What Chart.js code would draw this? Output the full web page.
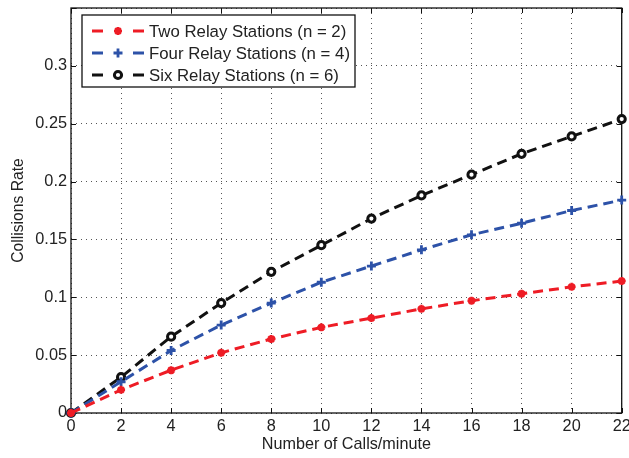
<!DOCTYPE html>
<html><head><meta charset="utf-8">
<script src="https://cdn.jsdelivr.net/npm/chart.js@4/dist/chart.umd.min.js"></script>
<style>html,body{margin:0;padding:0;background:#fff}#wrap{width:629px;height:458px;position:relative}</style>
</head><body><div id="wrap"><canvas id="c" width="629" height="458"></canvas></div>
<script>
const callsPerMinute = [0, 2, 4, 6, 8, 10, 12, 14, 16, 18, 20, 22];
const twoRelay  = [0, 0.020, 0.037, 0.052, 0.064, 0.074, 0.082, 0.090, 0.097, 0.103, 0.109, 0.114];
const fourRelay = [0, 0.027, 0.054, 0.076, 0.095, 0.113, 0.127, 0.141, 0.154, 0.164, 0.175, 0.184];
const sixRelay  = [0, 0.031, 0.066, 0.095, 0.122, 0.145, 0.168, 0.188, 0.206, 0.224, 0.239, 0.254];
const seriesLabels = ['Two Relay Stations (n = 2)', 'Four Relay Stations (n = 4)', 'Six Relay Stations (n = 6)'];
const xTitle = 'Number of Calls/minute';
const yTitle = 'Collisions Rate';

const FONT = "'Liberation Sans', Arial, sans-serif";
const toXY = arr => arr.map((v, i) => ({x: callsPerMinute[i], y: v}));

function drawMarker(ctx, style, x, y, r, color, bw) {
  ctx.save();
  ctx.strokeStyle = color; ctx.fillStyle = color; ctx.lineWidth = bw; ctx.setLineDash([]);
  ctx.beginPath();
  if (style === 'circle') {
    ctx.fillStyle = '#fff';
    ctx.arc(x, y, r, 0, Math.PI * 2); ctx.fill(); ctx.stroke();
  } else if (style === 'cross') {
    ctx.moveTo(x - r, y); ctx.lineTo(x + r, y); ctx.moveTo(x, y - r); ctx.lineTo(x, y + r); ctx.stroke();
  } else {
    ctx.moveTo(x - r, y); ctx.lineTo(x + r, y); ctx.moveTo(x, y - r); ctx.lineTo(x, y + r);
    const d = r * 0.707;
    ctx.moveTo(x - d, y - d); ctx.lineTo(x + d, y + d); ctx.moveTo(x - d, y + d); ctx.lineTo(x + d, y - d); ctx.stroke();
  }
  ctx.restore();
}

const framePlugin = {
  id: 'frame',
  beforeDatasetsDraw(chart) {
    const {ctx, chartArea: a, scales} = chart;
    ctx.save();
    ctx.strokeStyle = '#111'; ctx.lineWidth = 1.3; ctx.setLineDash([]);
    ctx.strokeRect(a.left, a.top, a.right - a.left, a.bottom - a.top);
    ctx.lineWidth = 1;
    ctx.beginPath();
    scales.x.ticks.forEach(t => {
      const px = Math.round(scales.x.getPixelForValue(t.value)) + 0.5;
      ctx.moveTo(px, a.bottom); ctx.lineTo(px, a.bottom - 5);
      ctx.moveTo(px, a.top); ctx.lineTo(px, a.top + 5);
    });
    scales.y.ticks.forEach(t => {
      const py = Math.round(scales.y.getPixelForValue(t.value)) + 0.5;
      ctx.moveTo(a.left, py); ctx.lineTo(a.left + 5, py);
      ctx.moveTo(a.right, py); ctx.lineTo(a.right - 5, py);
    });
    ctx.stroke();
    ctx.restore();
  }
};

const legendPlugin = {
  id: 'boxLegend',
  afterDraw(chart) {
    const {ctx} = chart;
    const x0 = 82, y0 = 15, w = 273, h = 72;
    ctx.save();
    ctx.fillStyle = '#fff'; ctx.fillRect(x0, y0, w, h);
    ctx.strokeStyle = '#111'; ctx.lineWidth = 1.3; ctx.strokeRect(x0, y0, w, h);
    ctx.font = '16.8px ' + FONT; ctx.fillStyle = '#222'; ctx.textBaseline = 'middle';
    chart.data.datasets.forEach((ds, i) => {
      const cy = y0 + 16 + i * 22;
      ctx.strokeStyle = ds.borderColor; ctx.lineWidth = ds.borderWidth; ctx.setLineDash([]);
      ctx.beginPath();
      ctx.moveTo(92, cy); ctx.lineTo(103, cy);
      ctx.moveTo(133, cy); ctx.lineTo(144, cy);
      ctx.stroke();
      drawMarker(ctx, ds.pointStyle, 118, cy, ds.pointRadius, ds.pointBorderColor, ds.pointBorderWidth);
      ctx.fillStyle = '#222';
      ctx.fillText(ds.label, 149, cy + 1);
    });
    ctx.restore();
  }
};

const mkDs = (label, data, color, style, r, bw) => ({
  label, data: toXY(data), borderColor: color, backgroundColor: style === 'circle' ? '#fff' : color,
  borderWidth: 3, borderDash: [10, 6], tension: 0, fill: false, clip: false,
  pointStyle: style, pointRadius: r, pointBorderColor: color, pointBorderWidth: bw,
  pointBackgroundColor: style === 'circle' ? '#fff' : color, pointHoverRadius: r
});

new Chart(document.getElementById('c'), {
  type: 'line',
  data: {
    datasets: [
      mkDs(seriesLabels[0], twoRelay, '#ee1c25', 'star', 4, 2.5),
      mkDs(seriesLabels[1], fourRelay, '#2d52a8', 'cross', 4.5, 2.8),
      mkDs(seriesLabels[2], sixRelay, '#111111', 'circle', 3.6, 3)
    ]
  },
  options: {
    responsive: false, animation: false, devicePixelRatio: 1,
    layout: {padding: {top: 8, right: 6, left: 0, bottom: 0}},
    plugins: {legend: {display: false}, tooltip: {enabled: false}},
    scales: {
      x: {
        type: 'linear', min: 0, max: 22,
        ticks: {stepSize: 2, font: {family: FONT, size: 16.3}, color: '#222', padding: 4, maxRotation: 0, autoSkip: false},
        grid: {color: '#555', lineWidth: 1, drawTicks: false},
        border: {display: false, dash: [1, 4]},
        title: {display: true, text: xTitle, font: {family: FONT, size: 16.2}, color: '#222', padding: {top: 0, bottom: 4}},
        afterFit: s => { s.height = 45; s.paddingLeft = 0; s.paddingRight = 0; }
      },
      y: {
        min: 0, max: 0.35,
        ticks: {stepSize: 0.05, font: {family: FONT, size: 16.3}, color: '#222', padding: 4,
          callback: v => v > 0.34 ? '' : String(Number(v.toFixed(2)))},
        grid: {color: '#555', lineWidth: 1, drawTicks: false},
        border: {display: false, dash: [1, 4]},
        title: {display: true, text: yTitle, font: {family: FONT, size: 15.7}, color: '#222', padding: {top: 9, bottom: 0}},
        afterFit: s => { s.width = 71; s.paddingTop = 0; s.paddingBottom = 0; }
      }
    }
  },
  plugins: [framePlugin, legendPlugin]
});
</script></body></html>
